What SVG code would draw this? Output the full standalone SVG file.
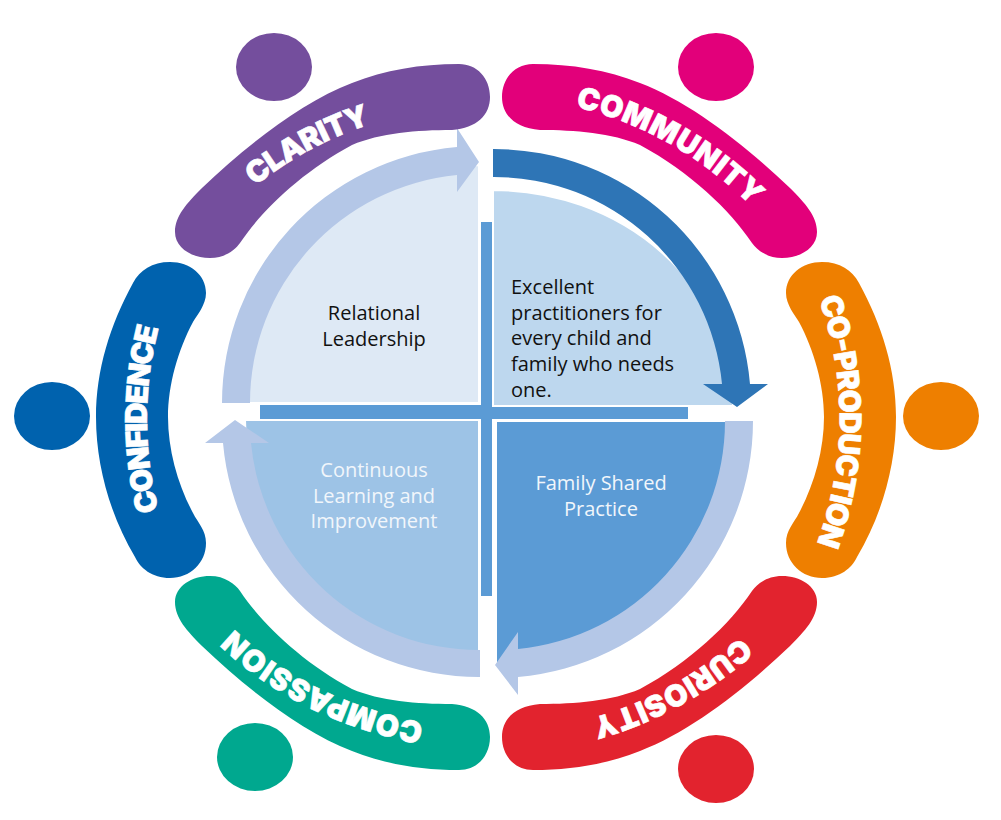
<svg xmlns="http://www.w3.org/2000/svg" width="1001" height="820" viewBox="0 0 1001 820">
<style>
.lbl{font-family:"Inter","Liberation Sans",sans-serif;font-weight:900;font-size:30px;fill:#fff;stroke:#fff;stroke-width:.6;text-anchor:middle}
.q{stroke:#fff;stroke-width:2}
.arrow{fill:#B4C7E7}
.t{font-family:"Open Sans","Noto Sans",sans-serif;font-size:20px}
.c{text-anchor:middle}
.k{fill:#111}
.w{fill:#F1F6FB}
</style>
<defs>
<path id="bandCurve" d="M459,64 C420,64 385,70 352,83 C302,102 247,145 202,188 C187,203 175,216 175,232 C175,248 192,258 210,258 C225,258 235,250 240,243 C262,210 302,172 352,145 C380,133 417,130 452,130 C477,128 490,115 490,97 C490,78 477,64 459,64 Z"/>
<path id="bandSide" d="M170,262 C190,262 206,275 206,293 C206,305 197,315 193,322 C178,350 168,385 168,417 C168,450 178,485 193,513 C198,523 206,530 206,543 C206,563 190,578 170,578 C152,578 140,568 135,557 C110,515 96,465 96,417 C96,370 110,325 133,283 C140,270 152,262 170,262 Z"/>
<path id="pClarity" d="M234,203 L258,184 Q308,145 365,126 L393,117"/>
<path id="pCommunity" d="M556,102 L580,108 Q674,132 745,200 L762,217"/>
<path id="pCoprod" d="M812,277 L818,296 Q862,421 816,546 L809,565"/>
<path id="pCuriosity" d="M752,627 L737,640 Q670,696 596,717 L577,722"/>
<path id="pCompassion" d="M440,726 L420,722 Q308,699 237,632 L222,618"/>
<path id="pConfidence" d="M164,531 L159,512 Q135,419 159,326 L164,307"/>
</defs>
<rect width="1001" height="820" fill="#fff"/>
<g id="cross" fill="#5B9BD5">
<rect x="481" y="222" width="11" height="374"/>
<rect x="260" y="405" width="428" height="14"/>
</g>
<g id="relational-leadership">
<path class="q" fill="#DEE9F5" d="M479,403 H244 A235,238 0 0 1 479,165 Z"/>
<text class="t k c" x="374" y="320">Relational</text>
<text class="t k c" x="374" y="346">Leadership</text>
</g>
<g id="excellent-practitioners">
<path class="q" fill="#BDD7EE" d="M493,406 V190 A240,216 0 0 1 733,406 Z"/>
<text class="t k" x="511" y="294">Excellent</text>
<text class="t k" x="511" y="320">practitioners for</text>
<text class="t k" x="511" y="345">every child and</text>
<text class="t k" x="511" y="371">family who needs</text>
<text class="t k" x="511" y="397">one.</text>
</g>
<g id="family-shared-practice">
<path class="q" fill="#5B9BD5" d="M496,421 H731 A235,235 0 0 1 518,655 L496,664 Z"/>
<text class="t w c" x="601" y="490">Family Shared</text>
<text class="t w c" x="601" y="516">Practice</text>
</g>
<g id="continuous-learning">
<path class="q" fill="#9DC3E6" d="M479,420 H245 A234,234 0 0 0 479,654 Z"/>
<text class="t w c" x="374" y="477">Continuous</text>
<text class="t w c" x="374" y="503">Learning and</text>
<text class="t w c" x="374" y="528">Improvement</text>
</g>
<g id="connectors">
<path class="arrow" d="M222,403 A257,257 0 0 1 457,147 L457,128 L479,162 L457,192 L457,175 A229,229 0 0 0 250,403 Z"/>
<path fill="#2E75B6" d="M493,149 A257,257 0 0 1 750,384 L768,384 L737,407 L703,384 L722,384 A229,229 0 0 0 493,177 Z"/>
<path class="arrow" d="M753,421 A257,257 0 0 1 518,677 L518,695 L495,665 L518,632 L518,649 A229,229 0 0 0 725,421 Z"/>
<path class="arrow" d="M480,677 A257,257 0 0 1 223,443 L205,443 L235,420 L269,443 L251,443 A229,229 0 0 0 480,650 Z"/>
</g>
<g id="clarity">
<ellipse cx="274" cy="67" rx="38" ry="34" fill="#744E9D"/>
<use href="#bandCurve" fill="#744E9D"/>
<text class="lbl"><textPath href="#pClarity" startOffset="51%" textLength="132">CLARITY</textPath></text>
</g>
<g id="community">
<ellipse cx="716" cy="67" rx="38" ry="34" fill="#E2007A"/>
<use href="#bandCurve" fill="#E2007A" transform="matrix(-1 0 0 1 992 0)"/>
<text class="lbl"><textPath href="#pCommunity" startOffset="51%" textLength="205">COMMUNITY</textPath></text>
</g>
<g id="co-production">
<ellipse cx="941" cy="416" rx="38" ry="34" fill="#EE7F00"/>
<use href="#bandSide" fill="#EE7F00" transform="matrix(-1 0 0 1 992 0)"/>
<text class="lbl"><textPath href="#pCoprod" startOffset="50%" textLength="250">CO-PRODUCTION</textPath></text>
</g>
<g id="curiosity">
<ellipse cx="716" cy="769" rx="38" ry="34" fill="#E2232E"/>
<use href="#bandCurve" fill="#E2232E" transform="matrix(-1 0 0 -1 992 834)"/>
<text class="lbl"><textPath href="#pCuriosity" startOffset="50%" textLength="172">CURIOSITY</textPath></text>
</g>
<g id="compassion">
<ellipse cx="255" cy="757" rx="38" ry="34" fill="#00A88F"/>
<use href="#bandCurve" fill="#00A88F" transform="matrix(1 0 0 -1 0 834)"/>
<text class="lbl"><textPath href="#pCompassion" startOffset="50%" textLength="215">COMPASSION</textPath></text>
</g>
<g id="confidence">
<ellipse cx="52" cy="416" rx="38" ry="34" fill="#0062AE"/>
<use href="#bandSide" fill="#0062AE"/>
<text class="lbl"><textPath href="#pConfidence" startOffset="50%" textLength="185">CONFIDENCE</textPath></text>
</g>
</svg>
